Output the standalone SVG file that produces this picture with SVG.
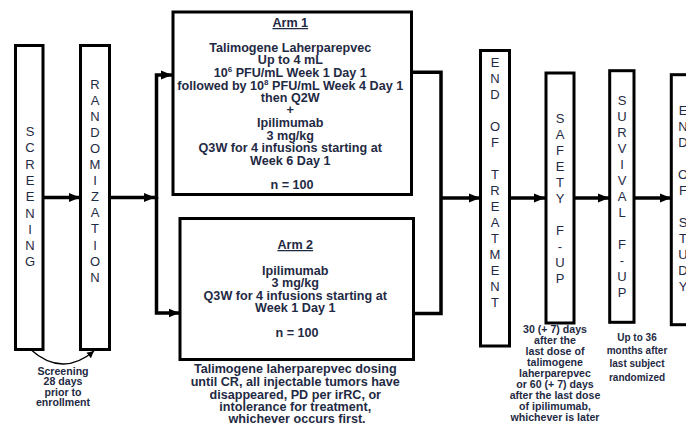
<svg xmlns="http://www.w3.org/2000/svg" width="686" height="426" viewBox="0 0 686 426">
<style>
.box{fill:#fff;stroke:#000;stroke-width:3}
.v{font-family:"Liberation Sans",Arial,sans-serif;font-size:13px;fill:#1f2a44;text-anchor:middle}
.t{font-family:"Liberation Sans",Arial,sans-serif;font-size:12.6px;font-weight:bold;fill:#1f2a44;text-anchor:middle}
.n{font-family:"Liberation Sans",Arial,sans-serif;font-size:10.6px;font-weight:bold;fill:#1f2a44;text-anchor:middle}
.c{fill:none;stroke:#000;stroke-width:3.5;stroke-linejoin:miter}
</style>
<defs>
<marker id="ah" markerUnits="userSpaceOnUse" markerWidth="12" markerHeight="10" refX="11" refY="5" orient="auto">
<path d="M0,0.5 L11,5 L0,9.5 z" fill="#000"/>
</marker>
<marker id="ahs" markerUnits="userSpaceOnUse" markerWidth="8" markerHeight="8" refX="7" refY="4" orient="auto">
<path d="M0,0.5 L7,4 L0,7.5 z" fill="#000"/>
</marker>
</defs>
<rect width="686" height="426" fill="#fff"/>
<g id="connectors">
<path class="c" d="M43,197.5 H80" marker-end="url(#ah)"/>
<path class="c" d="M110,197.5 H155" marker-end="url(#ah)"/>
<path class="c" d="M156.5,199 V75 H172" marker-end="url(#ah)"/>
<path class="c" d="M156.5,197 V313 H179.5" marker-end="url(#ah)"/>
<path class="c" d="M412,72.3 H441 V313.5 H414"/>
<path class="c" d="M441,198 H480" marker-end="url(#ah)"/>
<path class="c" d="M510,198 H545" marker-end="url(#ah)"/>
<path class="c" d="M575,198 H609" marker-end="url(#ah)"/>
<path class="c" d="M634,198 H671" marker-end="url(#ah)"/>
<path d="M30,349 Q62,378 94,351" fill="none" stroke="#000" stroke-width="1.3" marker-end="url(#ahs)"/>
</g>
<g id="screening">
<rect class="box" x="15.5" y="45.5" width="27.5" height="304"/>
<text class="v"><tspan x="30" y="136">S</tspan><tspan x="30" y="152.3">C</tspan><tspan x="30" y="168.6">R</tspan><tspan x="30" y="184.9">E</tspan><tspan x="30" y="201.2">E</tspan><tspan x="30" y="217.5">N</tspan><tspan x="30" y="233.8">I</tspan><tspan x="30" y="250.1">N</tspan><tspan x="30" y="266.4">G</tspan></text>
<text class="n"><tspan x="63" y="374.5">Screening</tspan><tspan x="63" y="385">28 days</tspan><tspan x="63" y="395.5">prior to</tspan><tspan x="63" y="406">enrollment</tspan></text>
</g>
<g id="randomization">
<rect class="box" x="80.5" y="45.5" width="29" height="304"/>
<text class="v"><tspan x="95" y="88.5">R</tspan><tspan x="95" y="104.6">A</tspan><tspan x="95" y="120.7">N</tspan><tspan x="95" y="136.8">D</tspan><tspan x="95" y="152.9">O</tspan><tspan x="95" y="169">M</tspan><tspan x="95" y="185.1">I</tspan><tspan x="95" y="201.2">Z</tspan><tspan x="95" y="217.3">A</tspan><tspan x="95" y="233.4">T</tspan><tspan x="95" y="249.5">I</tspan><tspan x="95" y="265.6">O</tspan><tspan x="95" y="281.7">N</tspan></text>
</g>
<g id="arm1">
<rect class="box" x="173" y="12" width="238.5" height="182.5"/>
<text class="t">
<tspan x="292" y="27" text-decoration="underline">Arm 1</tspan>
<tspan x="292" y="51.5">Talimogene Laherparepvec</tspan>
<tspan x="292" y="64">Up to 4 mL</tspan>
<tspan x="292" y="76.5">10<tspan font-size="8" dy="-4.5">6</tspan><tspan dy="4.5"> PFU/mL Week 1 Day 1</tspan></tspan>
<tspan x="292" y="89.5">followed by 10<tspan font-size="8" dy="-4.5">8</tspan><tspan dy="4.5"> PFU/mL Week 4 Day 1</tspan></tspan>
<tspan x="292" y="102">then Q2W</tspan>
<tspan x="292" y="114">+</tspan>
<tspan x="292" y="127">Ipilimumab</tspan>
<tspan x="292" y="139.5">3 mg/kg</tspan>
<tspan x="292" y="152">Q3W for 4 infusions starting at</tspan>
<tspan x="292" y="164.5">Week 6 Day 1</tspan>
<tspan x="292" y="188.5">n = 100</tspan>
</text>
</g>
<g id="arm2">
<rect class="box" x="180" y="218.5" width="233.5" height="141"/>
<text class="t">
<tspan x="297" y="249" text-decoration="underline">Arm 2</tspan>
<tspan x="297" y="275">Ipilimumab</tspan>
<tspan x="297" y="287">3 mg/kg</tspan>
<tspan x="297" y="299.5">Q3W for 4 infusions starting at</tspan>
<tspan x="297" y="311.5">Week 1 Day 1</tspan>
<tspan x="297" y="337">n = 100</tspan>
</text>
<text class="t">
<tspan x="297" y="373">Talimogene laherparepvec dosing</tspan>
<tspan x="297" y="386">until CR, all injectable tumors have</tspan>
<tspan x="297" y="398.5">disappeared, PD per irRC, or</tspan>
<tspan x="297" y="410.5">intolerance for treatment,</tspan>
<tspan x="297" y="422.5">whichever occurs first.</tspan>
</text>
</g>
<g id="end-of-treatment">
<rect class="box" x="480.5" y="50.5" width="29" height="295.5"/>
<text class="v"><tspan x="495" y="66.5">E</tspan><tspan x="495" y="82.5">N</tspan><tspan x="495" y="98.5">D</tspan><tspan x="495" y="130.5">O</tspan><tspan x="495" y="146.5">F</tspan><tspan x="495" y="178.5">T</tspan><tspan x="495" y="194.5">R</tspan><tspan x="495" y="210.5">E</tspan><tspan x="495" y="226.5">A</tspan><tspan x="495" y="242.5">T</tspan><tspan x="495" y="258.5">M</tspan><tspan x="495" y="274.5">E</tspan><tspan x="495" y="290.5">N</tspan><tspan x="495" y="306.5">T</tspan></text>
</g>
<g id="safety-fup">
<rect class="box" x="546" y="73" width="28" height="250"/>
<text class="v"><tspan x="560" y="123">S</tspan><tspan x="560" y="139">A</tspan><tspan x="560" y="155">F</tspan><tspan x="560" y="171">E</tspan><tspan x="560" y="187">T</tspan><tspan x="560" y="203">Y</tspan><tspan x="560" y="235">F</tspan><tspan x="560" y="251">-</tspan><tspan x="560" y="267">U</tspan><tspan x="560" y="283">P</tspan></text>
<text class="n"><tspan x="555" y="333">30 (+ 7) days</tspan><tspan x="555" y="344">after the</tspan><tspan x="555" y="355">last dose of</tspan><tspan x="555" y="366">talimogene</tspan><tspan x="555" y="377">laherparepvec</tspan><tspan x="555" y="388">or 60 (+ 7) days</tspan><tspan x="555" y="399">after the last dose</tspan><tspan x="555" y="410">of ipilimumab,</tspan><tspan x="555" y="421">whichever is later</tspan></text>
</g>
<g id="survival-fup">
<rect class="box" x="609.7" y="70.7" width="24.3" height="251.6"/>
<text class="v"><tspan x="622" y="104.5">S</tspan><tspan x="622" y="120.5">U</tspan><tspan x="622" y="136.5">R</tspan><tspan x="622" y="152.5">V</tspan><tspan x="622" y="168.5">I</tspan><tspan x="622" y="184.5">V</tspan><tspan x="622" y="200.5">A</tspan><tspan x="622" y="216.5">L</tspan><tspan x="622" y="248.5">F</tspan><tspan x="622" y="264.5">-</tspan><tspan x="622" y="280.5">U</tspan><tspan x="622" y="296.5">P</tspan></text>
<text class="n" style="font-size:10px"><tspan x="637" y="340.5">Up to 36</tspan><tspan x="637" y="354">months after</tspan><tspan x="637" y="367">last subject</tspan><tspan x="637" y="380.5">randomized</tspan></text>
</g>
<g id="end-of-study">
<rect class="box" x="671.3" y="74.7" width="40" height="250"/>
<text class="v"><tspan x="683" y="114.5">E</tspan><tspan x="683" y="130.5">N</tspan><tspan x="683" y="146.5">D</tspan><tspan x="683" y="178.5">O</tspan><tspan x="683" y="194.5">F</tspan><tspan x="683" y="226.5">S</tspan><tspan x="683" y="242.5">T</tspan><tspan x="683" y="258.5">U</tspan><tspan x="683" y="274.5">D</tspan><tspan x="683" y="290.5">Y</tspan></text>
</g>
</svg>
